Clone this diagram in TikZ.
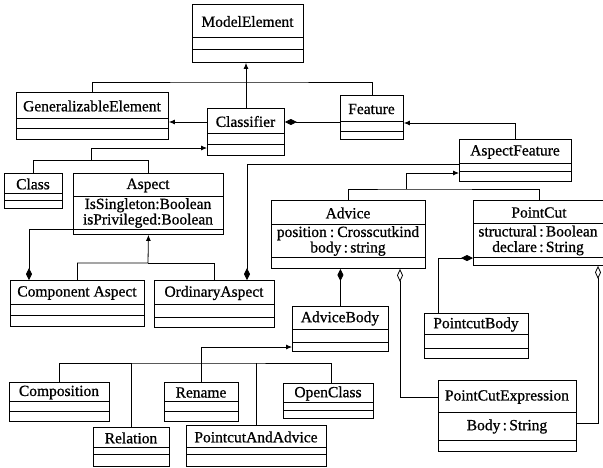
\documentclass[tikz,border=0pt]{standalone}
\usepackage{fontspec}
\setmainfont{Liberation Serif}
\newfontfamily\heavyserif{Liberation Serif}[FakeBold=0.8]
\usetikzlibrary{arrows.meta}
\tikzset{
  umlrect/.style={draw, line width=0.9pt, inner sep=0pt},
  divline/.style={line width=0.8pt},
  txt/.style={font=\heavyserif\fontsize{15.5}{15}\selectfont, inner sep=0pt},
  attr/.style={font=\heavyserif\fontsize{15.5}{15.5}\selectfont, inner sep=0pt, align=center},
  conn/.style={line width=0.8pt},
  gen/.style={-{Latex[length=6pt,width=5pt]}},
  compE/.style={-{Diamond[length=12pt,width=6pt]}},
  compS/.style={{Diamond[length=12pt,width=6pt]}-},
  aggS/.style={{Diamond[open,length=13pt,width=6pt]}-},
}
\newcommand\umlbox[8]{%
  \node[umlrect, minimum width={(#4-#2)*1pt}, minimum height={(#5-#3)*1pt}, anchor=north west] (#1) at (#2,#3) {};
  \draw[divline] (#2,#6) -- (#4,#6) (#2,#7) -- (#4,#7);
  \node[txt] (#1-t) at ({(#2+#4)/2},{(#3+#6)/2+1}) {#8};
}
\begin{document}
\begin{tikzpicture}[x=1pt,y=-1pt]
\useasboundingbox[fill=white] (0,0) rectangle (603,467);
\umlbox{ModelElement}{192}{4}{303}{62}{37}{49}{ModelElement}
\umlbox{GeneralizableElement}{16}{92}{168}{139}{118}{128}{GeneralizableElement}
\umlbox{Classifier}{207}{108}{284}{155}{133}{144}{Classifier}
\umlbox{Feature}{340}{95}{403}{139}{121}{131}{Feature}
\umlbox{AspectFeature}{459}{139}{571}{181}{163}{171}{AspectFeature}
\umlbox{Class}{4}{173}{62}{208}{193}{200}{Class}
\umlbox{Aspect}{73}{173}{223}{234}{196}{229}{Aspect}
\umlbox{ComponentAspect}{10}{280}{144}{326}{304}{315}{Component Aspect}
\umlbox{OrdinaryAspect}{154}{280}{274}{327}{304}{317}{OrdinaryAspect}
\umlbox{Advice}{271}{200}{425}{268}{224}{257}{Advice}
\umlbox{PointCut}{473}{200}{605}{265}{223}{257}{PointCut}
\umlbox{PointcutBody}{424}{313}{528}{358}{334}{348}{PointcutBody}
\umlbox{AdviceBody}{292}{306}{388}{351}{329}{342}{AdviceBody}
\umlbox{Composition}{9}{382}{109}{421}{401}{411}{Composition}
\umlbox{Relation}{93}{427}{169}{466}{447}{454}{Relation}
\umlbox{Rename}{164}{382}{238}{421}{401}{411}{Rename}
\umlbox{PointcutAndAdvice}{186}{425}{326}{466}{447}{454}{PointcutAndAdvice}
\umlbox{OpenClass}{283}{383}{373}{418}{402}{410}{OpenClass}
\umlbox{PointCutExpression}{438}{380}{576}{451}{412}{440}{PointCutExpression}
% attributes
\node[attr] (Aspect-a) at (148,213) {IsSingleton:Boolean\\isPrivileged:Boolean};
\node[attr] (Advice-a) at (348,241) {position\hspace{0.2em}:\hspace{0.2em}Crosscutkind\\body\hspace{0.15em}:\hspace{0.15em}string};
\node[attr] (PointCut-a) at (538,240.5) {structural\hspace{0.15em}:\hspace{0.15em}Boolean\\declare\hspace{0.15em}:\hspace{0.15em}String};
\node[attr] (PCE-a) at (507,426.5) {Body\hspace{0.15em}:\hspace{0.15em}String};
% helper coordinates
\coordinate (j1) at (246,82);
\coordinate (cl1) at (0,122);
\coordinate (f1) at (0,123);
\coordinate (j2) at (91,160);
\coordinate (c2) at (0,148);
\coordinate (a1) at (0,229);
\coordinate (a2) at (29,0);
\coordinate (j3) at (148,263);
\coordinate (o1) at (247,0);
\coordinate (o2) at (0,164);
\coordinate (j4) at (406,189);
\coordinate (af) at (0,173);
\coordinate (p1) at (0,258);
\coordinate (p2) at (438,0);
\coordinate (q1) at (400,0);
\coordinate (q2) at (0,397);
\coordinate (r1) at (598,0);
\coordinate (r2) at (0,423);
\coordinate (j5) at (201,363);
\coordinate (ab) at (0,347);
\coordinate (oc) at (331,0);
% connectors
\draw[conn,gen] (Classifier.north -| j1) -- (ModelElement.south -| j1);
\draw[conn] (GeneralizableElement.north) |- (j1) -| (Feature.north);
\draw[conn,gen] (Classifier.west |- cl1) -- (GeneralizableElement.east |- cl1);
\draw[conn,compE] (Feature.west |- cl1) -- (Classifier.east |- cl1);
\draw[conn,gen] (AspectFeature.north) |- (Feature.east |- f1);
\draw[conn] (Class.north) |- (j2);
\draw[conn,gen] (Aspect.north) |- (j2) |- (Classifier.west |- c2);
\draw[conn,compE] (Aspect.west |- a1) -| (ComponentAspect.north -| a2);
\draw[conn,gen] (ComponentAspect.north) |- (j3) -- (Aspect.south);
\draw[conn] (OrdinaryAspect.north) |- (j3);
\draw[conn,compS] (OrdinaryAspect.north -| o1) |- (AspectFeature.west |- o2);
\draw[conn] (Advice.north) |- (j4) -| (PointCut.north);
\draw[conn,gen] (j4) |- (AspectFeature.west |- af);
\draw[conn,compS] (PointCut.west |- p1) -| (PointcutBody.north -| p2);
\draw[conn,compS] (Advice.south -| AdviceBody.north) -- (AdviceBody.north);
\draw[conn,aggS] (Advice.south -| q1) |- (PointCutExpression.west |- q2);
\draw[conn,aggS] (PointCut.south -| r1) |- (PointCutExpression.east |- r2);
\draw[conn,gen] (Rename.north -| j5) |- (AdviceBody.west |- ab);
\draw[conn] (Composition.north) |- (j5) -- (j5 -| oc) -- (OpenClass.north -| oc);
\draw[conn] (Relation.north) -- (Relation.north |- j5);
\draw[conn] (PointcutAndAdvice.north) -- (PointcutAndAdvice.north |- j5);
\end{tikzpicture}
\end{document}
